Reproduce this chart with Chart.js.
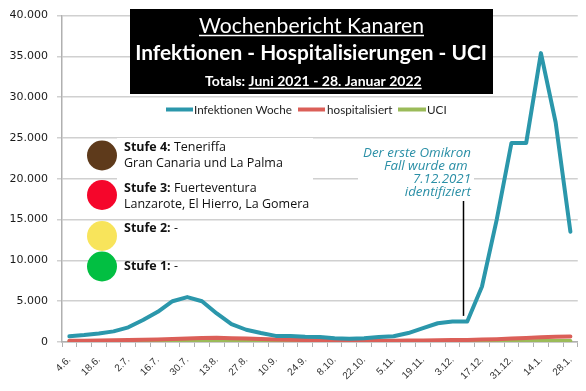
<!DOCTYPE html>
<html>
<head>
<meta charset="utf-8">
<script src="https://cdn.jsdelivr.net/npm/chart.js@4.4.1/dist/chart.umd.min.js"></script>
<style>
  html, body { margin: 0; padding: 0; background: #fff; }
  #wrap { width: 586px; height: 391px; }
</style>
</head>
<body>
<div id="wrap"><canvas id="chart" width="586" height="391"></canvas></div>
<script>
// weekly dates, Juni 2021 - Januar 2022
const weeks = ["4.6.", "11.6.", "18.6.", "25.6.", "2.7.", "9.7.", "16.7.", "23.7.", "30.7.", "6.8.",
  "13.8.", "20.8.", "27.8.", "3.9.", "10.9.", "17.9.", "24.9.", "1.10.", "8.10.", "15.10.",
  "22.10.", "29.10.", "5.11.", "12.11.", "19.11.", "26.11.", "3.12.", "10.12.", "17.12.", "24.12.",
  "31.12.", "7.1.", "14.1.", "21.1.", "28.1."];

const infektionen = [700, 850, 1050, 1300, 1800, 2700, 3700, 5000, 5500, 5000,
  3500, 2200, 1500, 1100, 750, 750, 650, 600, 450, 400,
  450, 600, 700, 1100, 1700, 2300, 2500, 2500, 6800, 15000,
  24400, 24400, 35400, 26900, 13500];

const hospitalisiert = [150, 160, 180, 200, 230, 270, 320, 380, 430, 500,
  520, 470, 420, 370, 320, 280, 250, 220, 200, 180,
  170, 160, 160, 170, 180, 200, 230, 260, 300, 350,
  420, 500, 580, 640, 680];

const uci = [50, 50, 50, 55, 60, 65, 70, 80, 90, 100,
  100, 100, 95, 85, 75, 65, 60, 55, 50, 45,
  45, 45, 45, 45, 50, 50, 55, 60, 70, 80,
  90, 100, 110, 120, 125];

const yTicks = [0, 5000, 10000, 15000, 20000, 25000, 30000, 35000, 40000];

const stufen = [
  { color: "#5e3a1b", head: "Stufe 4:", rest: " Teneriffa", line2: "Gran Canaria und La Palma" },
  { color: "#f5062b", head: "Stufe 3:", rest: " Fuerteventura", line2: "Lanzarote, El Hierro, La Gomera" },
  { color: "#f8e45b", head: "Stufe 2:", rest: " -", line2: "" },
  { color: "#02bf42", head: "Stufe 1:", rest: " -", line2: "" }
];

const noteLines = ["Der erste Omikron", "Fall wurde am ", "7.12.2021", "identifiziert"];

const blue = "#2b97ab";
const red = "#db5f58";
const green = "#9bbb59";

// font size so that text gets a given width
function fitSize(ctx, text, style, family, width) {
  ctx.font = style + " 100px " + family;
  return 100 * width / ctx.measureText(text).width;
}

function underline(ctx, x0, x1, y, color) {
  ctx.strokeStyle = color;
  ctx.lineWidth = 1.5;
  ctx.beginPath();
  ctx.moveTo(x0, y);
  ctx.lineTo(x1, y);
  ctx.stroke();
}

const overlay = {
  id: "overlay",
  afterDraw(chart) {
    const ctx = chart.ctx;
    const y = chart.scales.y;
    ctx.save();

    // title box
    ctx.fillStyle = "#000";
    ctx.fillRect(130, 9, 363, 85);
    ctx.fillStyle = "#fff";
    ctx.textBaseline = "alphabetic";

    let t1 = "Wochenbericht Kanaren";
    let s = fitSize(ctx, t1, "normal", "Lato", 225);
    ctx.font = "normal " + s + "px Lato";
    ctx.textAlign = "center";
    ctx.fillText(t1, 311.5, 33);
    underline(ctx, 199, 424, 35.5, "#fff");

    let t2 = "Infektionen - Hospitalisierungen - UCI";
    s = fitSize(ctx, t2, "bold", "Lato", 352);
    ctx.font = "bold " + s + "px Lato";
    ctx.fillText(t2, 311, 60);

    let t3a = "Totals: ", t3b = "Juni 2021 - 28. Januar 2022";
    s = fitSize(ctx, t3a + t3b, "bold", "Lato", 217);
    ctx.font = "bold " + s + "px Lato";
    ctx.textAlign = "left";
    ctx.fillText(t3a, 205, 86);
    let wa = ctx.measureText(t3a).width;
    ctx.fillText(t3b, 205 + wa, 86);
    underline(ctx, 205 + wa, 205 + wa + ctx.measureText(t3b).width, 88.5, "#fff");

    // legend
    s = fitSize(ctx, "Infektionen Woche", "normal", "Lato", 98);
    ctx.font = "normal " + s + "px Lato";
    ctx.fillStyle = "#222";
    const legend = [
      { c: blue, x0: 166, x1: 193, label: "Infektionen Woche", tx: 194 },
      { c: red, x0: 298, x1: 325, label: "hospitalisiert", tx: 327 },
      { c: green, x0: 398, x1: 426, label: "UCI", tx: 427 }
    ];
    legend.forEach(l => {
      ctx.strokeStyle = l.c;
      ctx.lineWidth = 4;
      ctx.beginPath();
      ctx.moveTo(l.x0, 109.5);
      ctx.lineTo(l.x1, 109.5);
      ctx.stroke();
      ctx.fillText(l.label, l.tx, 114);
    });

    // Stufe block
    ctx.fillStyle = "#fff";
    ctx.fillRect(117, 138, 196, 76);
    const circleY = [155.5, 195, 236, 266.5];
    const base = [[151, 167], [192, 208], [232], [270]];
    const fs = fitSize(ctx, "Gran Canaria und La Palma", "normal", "Open Sans", 159);
    stufen.forEach((st, i) => {
      ctx.fillStyle = st.color;
      ctx.beginPath();
      ctx.arc(102, circleY[i], 15, 0, Math.PI * 2);
      ctx.fill();
      ctx.fillStyle = "#111";
      ctx.font = "bold " + fs + "px Open Sans";
      ctx.fillText(st.head, 124, base[i][0]);
      const hw = ctx.measureText(st.head).width;
      ctx.font = "normal " + fs + "px Open Sans";
      ctx.fillText(st.rest, 124 + hw, base[i][0]);
      if (st.line2) ctx.fillText(st.line2, 124, base[i][1]);
    });

    // Omikron note
    ctx.fillStyle = "#fff";
    ctx.fillRect(358, 143, 116, 57);
    const ns = fitSize(ctx, noteLines[0], "italic", "Open Sans", 108);
    ctx.font = "italic " + ns + "px Open Sans";
    ctx.fillStyle = "#2a8fa6";
    ctx.textAlign = "right";
    noteLines.forEach((l, i) => ctx.fillText(l, 471, 157 + i * 13));
    ctx.strokeStyle = "#000";
    ctx.lineWidth = 1.5;
    ctx.beginPath();
    ctx.moveTo(463.5, 201);
    ctx.lineTo(463.5, y.getPixelForValue(3200));
    ctx.stroke();

    ctx.restore();
  }
};

new Chart(document.getElementById("chart"), {
  type: "line",
  data: {
    labels: weeks,
    datasets: [
      { label: "Infektionen Woche", data: infektionen, borderColor: blue, borderWidth: 4 },
      { label: "hospitalisiert", data: hospitalisiert, borderColor: red, borderWidth: 4 },
      { label: "UCI", data: uci, borderColor: green, borderWidth: 4 }
    ]
  },
  options: {
    responsive: false,
    devicePixelRatio: 1,
    animation: false,
    elements: {
      point: { radius: 0 },
      line: { tension: 0, borderJoinStyle: "round", borderCapStyle: "round" }
    },
    layout: { padding: { top: 10, right: 8, left: 0, bottom: 0 } },
    plugins: { legend: { display: false }, tooltip: { enabled: false } },
    scales: {
      x: {
        offset: true,
        grid: { offset: true, drawOnChartArea: false, tickLength: 5, color: "#b0b0b0" },
        border: { color: "#b0b0b0", width: 1.5 },
        ticks: {
          autoSkip: false, maxRotation: 45, minRotation: 45, padding: 7,
          color: "#333", font: { family: "Liberation Sans", size: 10 },
          callback: (v, i) => (i % 2 === 0 ? weeks[i] : "")
        },
        afterFit: s => { s.height = 49; }
      },
      y: {
        min: 0, max: 40000,
        afterBuildTicks: s => { s.ticks = yTicks.map(v => ({ value: v })); },
        grid: { color: "#d0d0d0", lineWidth: 1.5, tickLength: 5 },
        border: { color: "#b0b0b0", width: 1.5 },
        ticks: {
          padding: 9, color: "#1a1a1a", font: { family: "DejaVu Sans", size: 11 },
          callback: v => v.toLocaleString("de-DE")
        },
        afterFit: s => { s.width = 62; }
      }
    }
  },
  plugins: [overlay]
});
</script>
</body>
</html>
